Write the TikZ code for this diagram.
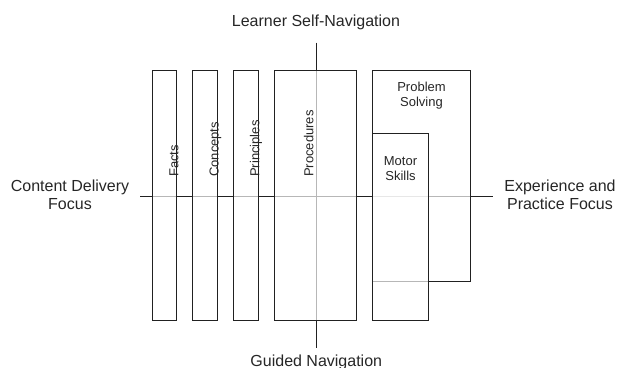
\documentclass[tikz,border=0pt]{standalone}
\usepackage{fontspec}
\setmainfont{Liberation Sans}
\begin{document}
\begin{tikzpicture}[x=1pt,y=-1pt,
  box/.style={draw=black!87,line width=1pt,fill=white,fill opacity=0.68,inner sep=0,outer sep=0},
  axis/.style={draw=black!87,line width=1pt},
  big/.style={font=\fontsize{16}{18}\selectfont,align=center,inner sep=0,text=black!85},
  small/.style={font=\fontsize{13}{15}\selectfont,align=center,inner sep=0,text=black!85},
  rot/.style={small,rotate=90,anchor=west}]
\useasboundingbox (0,0) rectangle (618,367);
\coordinate (hl) at (140,196);
\coordinate (hr) at (493,196);
\coordinate (vt) at (316.7,42.7);
\coordinate (vb) at (316.7,348);
\draw[axis] (hl) -- (hr);
\draw[axis] (vt) -- (vb);
\node[box,minimum width=24,minimum height=250] (facts) at (164.3,195) {};
\node[box,minimum width=25,minimum height=250] (concepts) at (204.8,195) {};
\node[box,minimum width=25,minimum height=250] (principles) at (245.8,195) {};
\node[box,minimum width=82,minimum height=250] (procedures) at (315.7,195) {};
\node[box,minimum width=97.3,minimum height=211.7] (problem) at (421.35,175.85) {};
\node[box,minimum width=55.6,minimum height=186.7] (motor) at (400.5,226.65) {};
\node[rot] (factsL) at (174,177) {Facts};
\node[rot] (conceptsL) at (215.5,177) {Concepts};
\node[rot] (principlesL) at (256,177) {Principles};
\node[rot] (proceduresL) at (308.7,177) {Procedures};
\node[small] (problemL) at (421.5,96) {Problem\\Solving};
\node[small] (motorL) at (400.5,169) {Motor\\Skills};
\node[big,anchor=base] (top) at (316,26) {Learner Self-Navigation};
\node[big,anchor=base] (bottom) at (316.3,366.5) {Guided Navigation};
\node[big] (left) at (70,195) {Content Delivery\\Focus};
\node[big] (right) at (560,195) {Experience and\\Practice Focus};
\end{tikzpicture}
\end{document}
